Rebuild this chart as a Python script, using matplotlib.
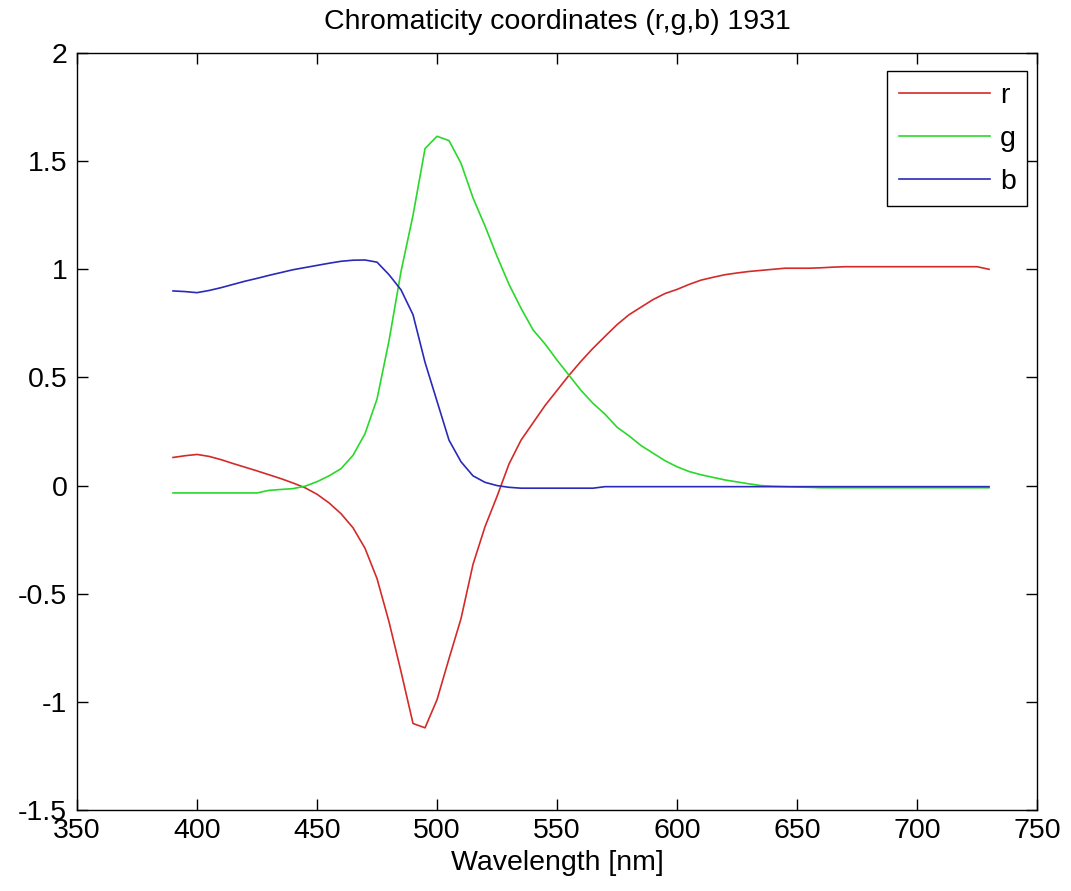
import matplotlib
matplotlib.use("Agg")
import matplotlib.pyplot as plt

# longitudes de onda (nm) y coordenadas cromaticas
wavelength = list(range(390, 735, 5))

r = [0.130, 0.138, 0.144, 0.135, 0.120, 0.102, 0.085, 0.068, 0.050, 0.032,
     0.012, -0.010, -0.040, -0.080, -0.130, -0.195, -0.290, -0.430, -0.630, -0.860,
     -1.100, -1.120, -0.990, -0.800, -0.615, -0.364, -0.190, -0.050, 0.100, 0.210,
     0.290, 0.370, 0.440, 0.510, 0.575, 0.635, 0.690, 0.744, 0.790, 0.825,
     0.860, 0.888, 0.907, 0.930, 0.950, 0.963, 0.975, 0.983, 0.990, 0.995,
     1.000, 1.005, 1.005, 1.005, 1.007, 1.010, 1.012, 1.012, 1.012, 1.012,
     1.012, 1.012, 1.012, 1.012, 1.012, 1.012, 1.012, 1.012, 1.000]

g = [-0.034, -0.034, -0.034, -0.034, -0.034, -0.034, -0.034, -0.034, -0.022, -0.018,
     -0.014, -0.003, 0.018, 0.045, 0.078, 0.140, 0.240, 0.400, 0.670, 0.990,
     1.250, 1.558, 1.615, 1.595, 1.490, 1.330, 1.200, 1.060, 0.930, 0.820,
     0.720, 0.655, 0.580, 0.510, 0.440, 0.380, 0.330, 0.270, 0.230, 0.185,
     0.150, 0.115, 0.087, 0.065, 0.050, 0.038, 0.026, 0.017, 0.008, 0.000,
     -0.003, -0.005, -0.007, -0.008, -0.010, -0.010, -0.010, -0.010, -0.010, -0.010,
     -0.010, -0.010, -0.010, -0.010, -0.010, -0.010, -0.010, -0.010, -0.010]

b = [0.900, 0.897, 0.892, 0.902, 0.915, 0.930, 0.945, 0.958, 0.972, 0.985,
     0.998, 1.008, 1.018, 1.028, 1.037, 1.042, 1.043, 1.033, 0.975, 0.905,
     0.790, 0.570, 0.390, 0.210, 0.110, 0.045, 0.015, 0.000, -0.008, -0.012,
     -0.012, -0.012, -0.012, -0.012, -0.012, -0.012, -0.005, -0.005, -0.005, -0.005,
     -0.005, -0.005, -0.005, -0.005, -0.005, -0.005, -0.005, -0.005, -0.005, -0.005,
     -0.005, -0.005, -0.005, -0.005, -0.005, -0.005, -0.005, -0.005, -0.005, -0.005,
     -0.005, -0.005, -0.005, -0.005, -0.005, -0.005, -0.005, -0.005, -0.005]

xticks = [350, 400, 450, 500, 550, 600, 650, 700, 750]
yticks = [-1.5, -1, -0.5, 0, 0.5, 1, 1.5, 2]
ytick_labels = ["-1.5", "-1", "-0.5", "0", "0.5", "1", "1.5", "2"]

plt.rcParams['font.family'] = ['Liberation Sans', 'DejaVu Sans']
tam = 20.5  # tamaño de letra

fig = plt.figure(figsize=(10.71, 8.91), dpi=100)
ax = fig.add_axes([0.0719, 0.0909, 0.8964, 0.8496])

ax.plot(wavelength, r, color='#d42a2a', lw=1.2, label='r')
ax.plot(wavelength, g, color='#2ad82a', lw=1.2, label='g')
ax.plot(wavelength, b, color='#2a2ab8', lw=1.2, label='b')

ax.set_xlim(350, 750)
ax.set_ylim(-1.5, 2)
ax.set_xticks(xticks)
ax.set_yticks(yticks)
ax.set_yticklabels(ytick_labels)
ax.tick_params(direction='in', length=8, width=1, top=True, right=True,
               labelsize=tam)
ax.tick_params(axis='x', pad=6)
ax.tick_params(axis='y', pad=7)
for spine in ax.spines.values():
    spine.set_linewidth(1)

ax.set_title("Chromaticity coordinates (r,g,b) 1931", fontsize=tam, pad=17)
ax.set_xlabel("Wavelength [nm]", fontsize=tam, labelpad=4)

leg = ax.legend(loc='upper right', bbox_to_anchor=(0.9896, 0.976), borderaxespad=0,
                fontsize=tam, fancybox=False, framealpha=1, edgecolor='black',
                handlelength=3.2, handletextpad=0.35, labelspacing=0.6)
leg.get_frame().set_linewidth(1)

fig.savefig("out.png", dpi=100, facecolor='white')
